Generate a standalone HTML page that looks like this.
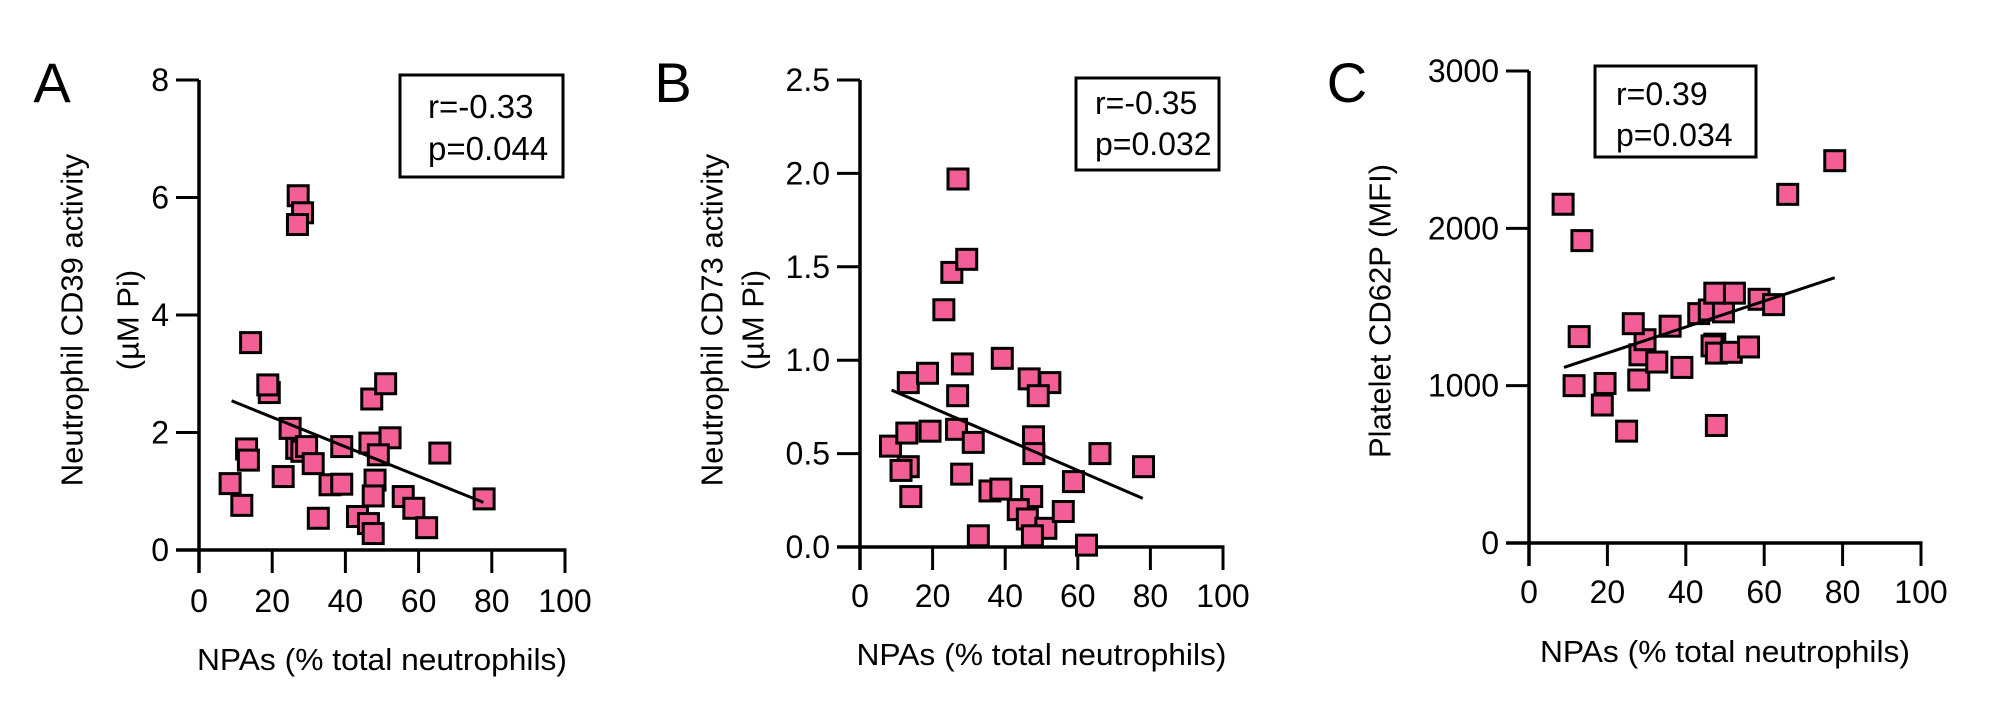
<!DOCTYPE html>
<html><head><meta charset="utf-8"><style>
html,body{margin:0;padding:0;background:#fff;}
svg{display:block;font-family:"Liberation Sans",Arial,sans-serif;}
</style></head><body>
<svg id="fig" width="2000" height="722" viewBox="0 0 2000 722" xmlns="http://www.w3.org/2000/svg">
<rect width="2000" height="722" fill="#fff"/>
</svg>
<script>
const xTicks = [0,20,40,60,80,100];
const aYTicks = [0,2,4,6,8];
const aYLabels = ["0","2","4","6","8"];
const aX = [27.1,28.3,26.9,14.1,19.2,18.8,47.2,51.0,24.9,13.0,13.5,26.7,28.1,29.4,31.2,39.0,46.7,52.2,49.0,65.8,23.0,8.5,11.7,35.8,39.0,48.1,47.6,32.6,43.3,46.3,47.6,55.8,58.7,62.2,77.9];
const aY = [6.03,5.74,5.54,3.53,2.68,2.81,2.57,2.83,2.07,1.72,1.53,1.73,1.68,1.76,1.47,1.76,1.82,1.91,1.62,1.65,1.25,1.13,0.76,1.11,1.12,1.19,0.92,0.54,0.57,0.45,0.28,0.91,0.71,0.38,0.87];
const aFit = [[8.9,2.54],[77.7,0.81]];
const bYTicks = [0,0.5,1.0,1.5,2.0,2.5];
const bYLabels = ["0.0","0.5","1.0","1.5","2.0","2.5"];
const bX = [27.0,25.3,29.4,23.1,13.3,18.6,28.2,39.2,26.9,46.6,52.3,49.1,8.4,12.9,19.3,26.6,31.2,47.8,47.9,66.1,78.1,13.3,11.3,14.0,28.0,35.8,38.8,58.8,47.3,43.6,46.1,51.2,56.0,32.6,47.5,62.4];
const bY = [1.97,1.47,1.54,1.27,0.88,0.93,0.98,1.01,0.81,0.90,0.88,0.81,0.54,0.61,0.62,0.63,0.56,0.59,0.50,0.50,0.43,0.43,0.41,0.27,0.39,0.30,0.31,0.35,0.27,0.20,0.15,0.10,0.19,0.06,0.06,0.01];
const bFit = [[8.7,0.84],[77.9,0.26]];
const cYTicks = [0,1000,2000,3000];
const cYLabels = ["0","1000","2000","3000"];
const cX = [78.0,66.0,8.7,13.5,12.8,11.5,19.4,18.7,24.9,47.8,28.0,28.3,32.6,39.0,29.6,26.6,36.0,43.3,46.0,49.6,47.4,52.4,58.7,62.4,47.4,46.7,47.8,51.6,56.0];
const cY = [2430,2216,2153,1922,1312,1000,1014,877,711,747,1036,1196,1150,1116,1292,1394,1378,1458,1481,1469,1588,1588,1549,1515,1264,1253,1207,1212,1246];
const cFit = [[8.9,1116],[78.0,1686]];

const NS="http://www.w3.org/2000/svg";
const svg=document.getElementById('fig');
function mk(tag,attrs,parent){const e=document.createElementNS(NS,tag);for(const k in attrs)e.setAttribute(k,attrs[k]);(parent||svg).appendChild(e);return e;}
function txt(s,attrs,parent){const e=mk('text',attrs,parent);e.textContent=s;return e;}

function panel(cfg){
  const g=mk('g',{});
  
  
  const sx=v=>cfg.x0+(cfg.x1-cfg.x0)*v/100;
  const sy=v=>cfg.y0-(cfg.y0-cfg.yTop)*v/cfg.yMax;
  const tl=23;
  const ya=mk('line',{x1:sx(0),y1:sy(cfg.yMax),x2:sx(0),y2:cfg.y0+tl,stroke:'#000','stroke-width':3.5},g);
  
  
  cfg.yTicks.forEach((t,i)=>{
    const l=mk('line',{x1:sx(0)-tl,y1:sy(t),x2:sx(0),y2:sy(t),stroke:'#000','stroke-width':3},g);
    
    
    const lb=txt(cfg.yLabels[i],{x:sx(0)-tl-7,y:sy(t)+11,'font-size':cfg.tf,'text-anchor':'end'},g);
    
    
  });
  const xa=mk('line',{x1:sx(0)-tl,y1:cfg.y0,x2:sx(100)+1.5,y2:cfg.y0,stroke:'#000','stroke-width':3.5},g);
  
  
  xTicks.forEach(t=>{
    const l=mk('line',{x1:sx(t),y1:cfg.y0,x2:sx(t),y2:cfg.y0+tl,stroke:'#000','stroke-width':3},g);
    
    
    const lb=txt(String(t),{x:sx(t),y:cfg.xlb,'font-size':cfg.tf,'text-anchor':'middle'},g);
    
    
  });
  const s=cfg.ms;
  cfg.xs.forEach((xv,i)=>{
    const r=mk('rect',{x:sx(xv)-s/2,y:sy(cfg.ys[i])-s/2,width:s,height:s,fill:'#f25e95',stroke:'#000','stroke-width':3},g);
    
    
  });
  const f=mk('line',{x1:sx(cfg.fit[0][0]),y1:sy(cfg.fit[0][1]),x2:sx(cfg.fit[1][0]),y2:sy(cfg.fit[1][1]),stroke:'#000','stroke-width':3},g);
  
  
  const xt=txt('NPAs (% total neutrophils)',{x:(sx(0)+sx(100))/2,y:cfg.xtb,'font-size':31,'text-anchor':'middle',textLength:370,lengthAdjust:'spacingAndGlyphs'},g);
  
  
  cfg.yt.forEach((ln,i)=>{
    const t=txt(ln[0],{x:0,y:0,'font-size':31,'text-anchor':'middle',transform:`translate(${ln[1]},${cfg.ytc}) rotate(-90)`,'dominant-baseline':'central'},g);
    
    
  });
  const b=cfg.box;
  const br=mk('rect',{x:b[0],y:b[1],width:b[2]-b[0],height:b[3]-b[1],fill:'#fff',stroke:'#000','stroke-width':3},g);
  
  
  const t1=txt(cfg.stats[0],{x:b[4],y:b[5],'font-size':cfg.bf},g);
  
  
  const t2=txt(cfg.stats[1],{x:b[4],y:b[6],'font-size':cfg.bf},g);
  
  
  const pl=txt(cfg.letter[0],{x:cfg.letter[1],y:cfg.letter[2],'font-size':56,'text-anchor':'middle'},g);
  
  
}

panel({name:'panel-a',x0:199,x1:565,y0:550,yTop:80,yMax:8,yTicks:aYTicks,yLabels:aYLabels,xs:aX,ys:aY,fit:aFit,ms:20,tf:32,xlb:612,xtb:670,
  yt:[['Neutrophil CD39 activity',72],['(\u00b5M Pi)',128]],ytc:320,box:[400,75,563,177,428,118,160],bf:33,stats:['r=-0.33','p=0.044'],letter:['A',52,102]});
panel({name:'panel-b',x0:860,x1:1223,y0:547,yTop:80,yMax:2.5,yTicks:bYTicks,yLabels:bYLabels,xs:bX,ys:bY,fit:bFit,ms:20,tf:32,xlb:607,xtb:665,
  yt:[['Neutrophil CD73 activity',712],['(\u00b5M Pi)',753]],ytc:320,box:[1076,78,1219,170,1095,114,155],bf:32,stats:['r=-0.35','p=0.032'],letter:['B',673,102]});
panel({name:'panel-c',x0:1529,x1:1921,y0:543,yTop:71,yMax:3000,yTicks:cYTicks,yLabels:cYLabels,xs:cX,ys:cY,fit:cFit,ms:20,tf:32,xlb:603,xtb:662,
  yt:[['Platelet CD62P (MFI)',1380]],ytc:311,box:[1595,66,1756,157,1616,105,146],bf:32,stats:['r=0.39','p=0.034'],letter:['C',1347,102]});
</script>
</body></html>
